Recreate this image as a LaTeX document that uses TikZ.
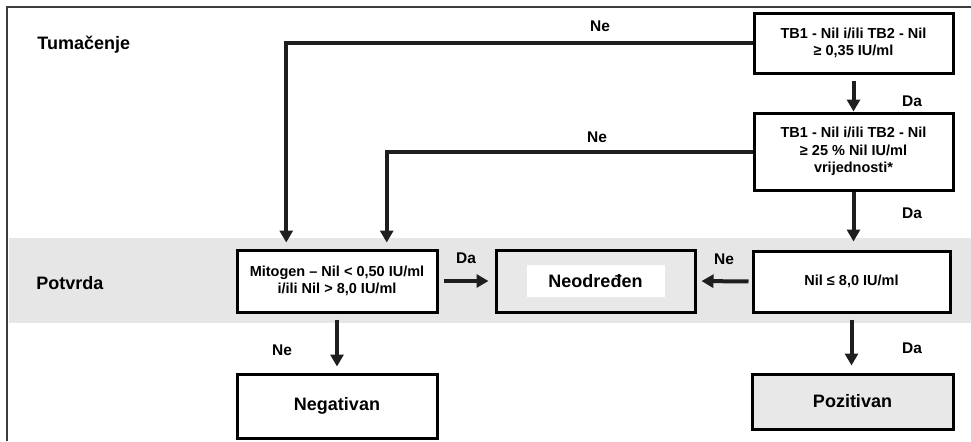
\documentclass[tikz,border=0pt]{standalone}
\usepackage{fontspec}
\setmainfont{Liberation Sans}
\usepackage{tikz}
\usetikzlibrary{arrows.meta,calc}
\definecolor{ColBand}{RGB}{230,230,230}
\definecolor{ColFill}{RGB}{232,232,232}
\definecolor{ColFrame}{RGB}{60,60,60}
\definecolor{ColLine}{RGB}{30,30,30}
\tikzstyle{Box}=[draw=black,line width=1.5pt,fill=white,align=center,
inner sep=2pt,font=\bfseries\fontsize{7.25}{8.8}\selectfont]
\tikzstyle{Result}=[Box,fill=ColFill,font=\bfseries\fontsize{9}{10}\selectfont]
\tikzstyle{Edge}=[draw=ColLine,line width=2pt,
-{Triangle[length=6pt,width=6.5pt]}]
\tikzstyle{Answer}=[font=\bfseries\fontsize{7.75}{9}\selectfont,inner sep=1pt]
\tikzstyle{Stage}=[anchor=west,font=\bfseries\fontsize{9}{10}\selectfont,
inner sep=0pt]
\setlength{\fboxsep}{2pt}

\begin{document}
\begin{tikzpicture}[x=0.5pt,y=-0.5pt]
        \useasboundingbox(0,0)rectangle(971,441);
        \fill[ColBand](9,238)rectangle(971,323);
        \draw[ColFrame,line width=1pt](971,7)--(7,7)--(7,441);
        \node[Stage](tum)at(37,45){Tumačenje};
        \node[Stage](pot)at(36,283){Potvrda};
        \node[Box,minimum width=99.5pt,minimum height=30pt](tb1)
            at(853.5,43){TB1 - Nil i/ili TB2 - Nil\\≥ 0,35 IU/ml};
        \node[Box,minimum width=99.5pt,minimum height=38.5pt](tb2)
            at(853.5,151.5){TB1 - Nil i/ili TB2 - Nil\\≥ 25 \% Nil IU/ml\\vrijednosti*};
        \node[Box,minimum width=98.5pt,minimum height=30.5pt](nil)
            at(851.5,281.5){Nil ≤ 8,0 IU/ml};
        \node[Box,minimum width=100pt,minimum height=31pt](mito)
            at(337,281){Mitogen – Nil < 0,50 IU/ml\\i/ili Nil > 8,0 IU/ml};
        \node[Result,minimum width=99.5pt,minimum height=31pt](neod)
            at(595.5,281){\colorbox{white}{\parbox[c][12pt][c]{65pt}{\centering Neodređen}}};
        \node[Result,minimum width=100.5pt,minimum height=27.5pt](poz)
            at(852.5,401.5){Pozitivan};
        \node[Result,fill=white,minimum width=100pt,minimum height=32pt](neg)
            at(337,406){Negativan};
        \draw[Edge,shorten >=3pt](tb1.west)
            -|($(mito.north west)!0.25!(mito.north east)$);
        \draw[Edge,shorten >=3pt](tb2.west)
            -|($(mito.north west)!0.745!(mito.north east)$);
        \draw[Edge,shorten <=3pt](tb1.south)--(tb1.south|-tb2.north);
        \draw[Edge,shorten >=4pt](tb2.south)--(tb2.south|-nil.north);
        \draw[Edge,shorten <=3pt,shorten >=3.5pt](nil.south)--(nil.south|-poz.north);
        \draw[Edge,shorten <=3pt,shorten >=3pt](mito.south)--(neg.north);
        \draw[Edge,shorten <=2.5pt,shorten >=3pt](mito.east)--(neod.west);
        \draw[Edge,shorten <=1.5pt,shorten >=2.5pt](nil.west)--(neod.east);
        \node[Answer](ne1)at(600,26){Ne};
        \node[Answer](ne2)at(597,137){Ne};
        \node[Answer](da1)at(912,101){Da};
        \node[Answer](da2)at(912,213){Da};
        \node[Answer](da3)at(912,348){Da};
        \node[Answer](da4)at(466,258){Da};
        \node[Answer](ne3)at(724,259){Ne};
        \node[Answer](ne4)at(282,350){Ne};
    \end{tikzpicture}
\end{document}
